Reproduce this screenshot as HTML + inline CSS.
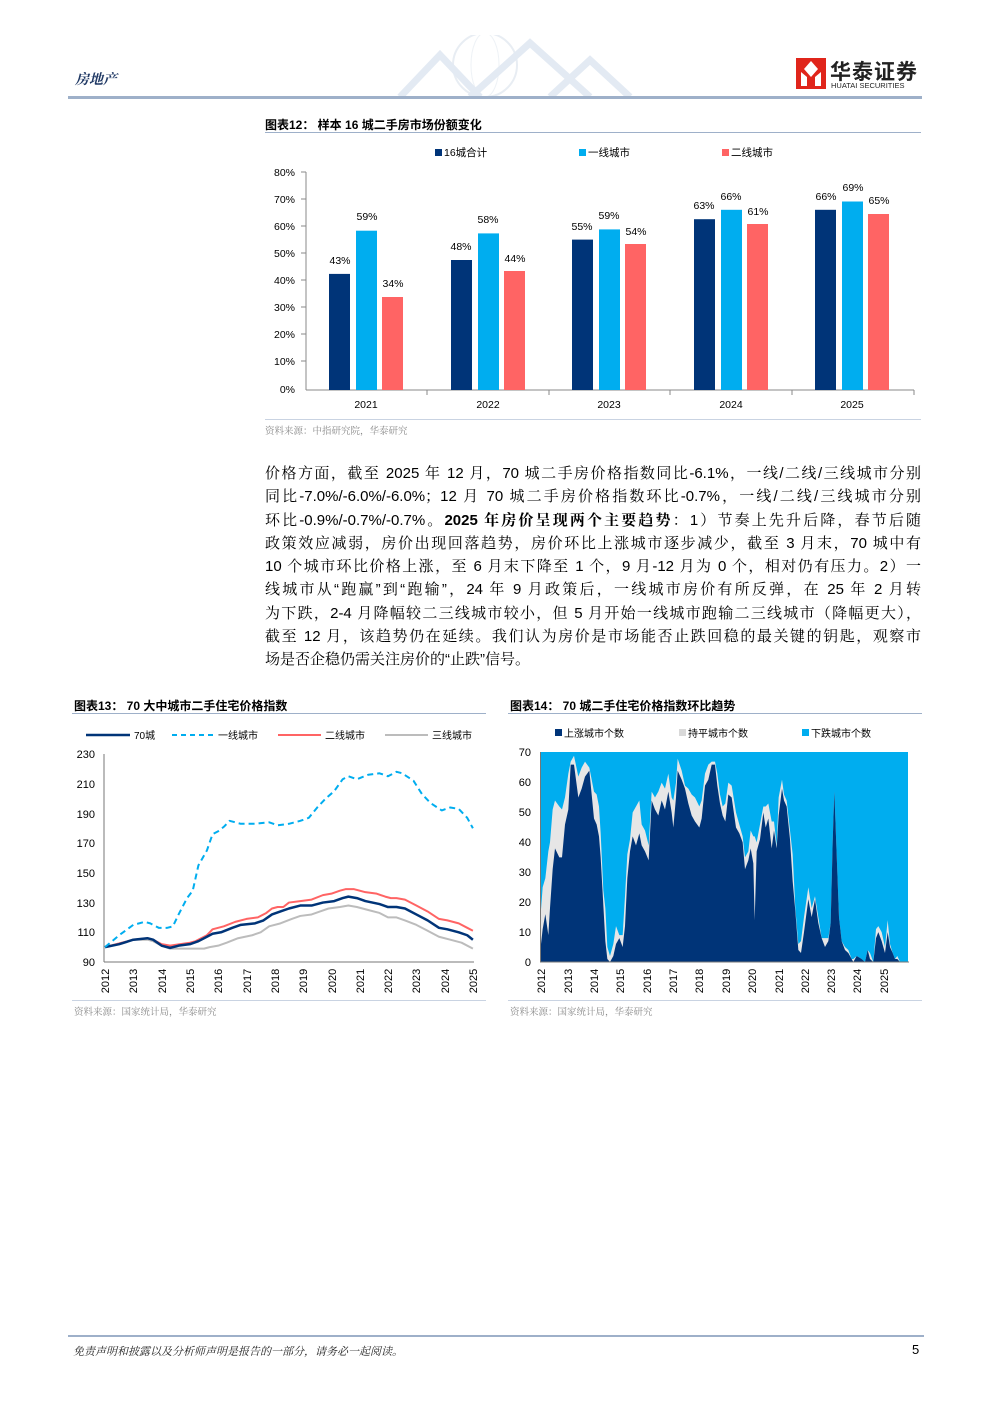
<!DOCTYPE html>
<html><head><meta charset="utf-8">
<style>
body{margin:0;background:#fff;}
#p{position:relative;width:992px;height:1403px;overflow:hidden;font-family:"Liberation Sans","Noto Sans CJK SC",sans-serif;color:#000;}
.a{position:absolute;white-space:nowrap;}
.t{font-size:12px;font-weight:bold;}
.src{font-size:9.5px;color:#8a8a8a;font-family:"Liberation Serif","Noto Serif CJK SC",serif;}
.para{position:absolute;left:265px;top:462px;width:656px;font-size:15px;line-height:23.3px;font-family:"Liberation Sans","Noto Serif CJK SC",serif;}
.para div{text-align:justify;text-align-last:justify;white-space:nowrap;overflow:hidden;height:23.3px;}
svg text{font-family:"Liberation Sans","Noto Sans CJK SC",sans-serif;}
</style></head><body><div id="p">
<!-- header -->
<div class="a" style="left:75px;top:69px;font-size:14px;font-weight:bold;font-style:italic;color:#1f3864;font-family:'Liberation Serif','Noto Serif CJK SC',serif;">房地产</div>
<svg class="a" style="left:380px;top:35px" width="280" height="62">
<circle cx="105" cy="30" r="32" fill="none" stroke="#e8edf3" stroke-width="2"/>
<ellipse cx="105" cy="30" rx="14" ry="32" fill="none" stroke="#eef2f6"/>
<path d="M20 62 L60 20 L100 62 M90 62 L150 8 L210 62 M170 62 L210 25 L250 62" fill="none" stroke="#e3eaf3" stroke-width="7"/>
</svg>
<div class="a" style="left:68px;top:96px;width:854px;height:3px;background:#9eb0c9"></div>
<svg class="a" style="left:796px;top:58px" width="30" height="31"><rect width="30" height="31" fill="#e0251b"/><path d="M15 3 L22 11 L15 19 L8 11Z M5 14 L5 28 L11 28 L11 19Z M25 14 L25 28 L19 28 L19 19Z" fill="#fff"/></svg>
<div class="a" style="left:830px;top:56px;font-size:21px;font-weight:bold;color:#222;letter-spacing:1px;">华泰证券</div>
<div class="a" style="left:831px;top:81px;font-size:7.5px;color:#222;">HUATAI SECURITIES</div>

<!-- chart 12 -->
<div class="a t" style="left:265px;top:116px;">图表12：&nbsp;样本 16 城二手房市场份额变化</div>
<div class="a" style="left:265px;top:132px;width:656px;height:1px;background:#9eb0c9"></div>
<svg class="a" style="left:260px;top:140px" width="665" height="275">
<g font-size="10.5">
<rect x="175" y="9" width="7" height="7" fill="#003478"/><text x="184" y="16">16城合计</text>
<rect x="319" y="9" width="7" height="7" fill="#00adef"/><text x="328" y="16">一线城市</text>
<rect x="462" y="9" width="7" height="7" fill="#ff6464"/><text x="471" y="16">二线城市</text>
</g>
<g font-size="10.5" text-anchor="end">
<text x="35" y="36">80%</text><text x="35" y="63">70%</text><text x="35" y="90">60%</text><text x="35" y="117">50%</text><text x="35" y="144">40%</text><text x="35" y="171">30%</text><text x="35" y="198">20%</text><text x="35" y="225">10%</text><text x="35" y="253">0%</text>
</g>
<line x1="46" y1="32" x2="46" y2="250" stroke="#888"/>
<g stroke="#888"><line x1="41" y1="32" x2="46" y2="32"/><line x1="41" y1="59" x2="46" y2="59"/><line x1="41" y1="86" x2="46" y2="86"/><line x1="41" y1="113" x2="46" y2="113"/><line x1="41" y1="140" x2="46" y2="140"/><line x1="41" y1="167" x2="46" y2="167"/><line x1="41" y1="194" x2="46" y2="194"/><line x1="41" y1="221" x2="46" y2="221"/>
<line x1="46" y1="250" x2="654" y2="250"/>
<line x1="167" y1="250" x2="167" y2="255"/><line x1="289" y1="250" x2="289" y2="255"/><line x1="410" y1="250" x2="410" y2="255"/><line x1="532" y1="250" x2="532" y2="255"/><line x1="654" y1="250" x2="654" y2="255"/></g>
<g>
<rect x="69" y="133.9" width="21" height="116.1" fill="#003478"/><rect x="96" y="90.7" width="21" height="159.3" fill="#00adef"/><rect x="122" y="157" width="21" height="93" fill="#ff6464"/>
<rect x="191" y="120" width="21" height="130" fill="#003478"/><rect x="218" y="93.4" width="21" height="156.6" fill="#00adef"/><rect x="244" y="131" width="21" height="119" fill="#ff6464"/>
<rect x="312" y="99.6" width="21" height="150.4" fill="#003478"/><rect x="339" y="89.4" width="21" height="160.6" fill="#00adef"/><rect x="365" y="104" width="21" height="146" fill="#ff6464"/>
<rect x="434" y="79.2" width="21" height="170.8" fill="#003478"/><rect x="461" y="69.8" width="21" height="180.2" fill="#00adef"/><rect x="487" y="84" width="21" height="166" fill="#ff6464"/>
<rect x="555" y="69.8" width="21" height="180.2" fill="#003478"/><rect x="582" y="61.5" width="21" height="188.5" fill="#00adef"/><rect x="608" y="74" width="21" height="176" fill="#ff6464"/>
</g>
<g font-size="10.5" text-anchor="middle">
<text x="80" y="124">43%</text><text x="107" y="80">59%</text><text x="133" y="147">34%</text>
<text x="201" y="110">48%</text><text x="228" y="83">58%</text><text x="255" y="122">44%</text>
<text x="322" y="90">55%</text><text x="349" y="79">59%</text><text x="376" y="95">54%</text>
<text x="444" y="69">63%</text><text x="471" y="60">66%</text><text x="498" y="75">61%</text>
<text x="566" y="60">66%</text><text x="593" y="51">69%</text><text x="619" y="64">65%</text>
<text x="106" y="268">2021</text><text x="228" y="268">2022</text><text x="349" y="268">2023</text><text x="471" y="268">2024</text><text x="592" y="268">2025</text>
</g>
</svg>
<div class="a" style="left:265px;top:419px;width:656px;height:1px;background:#c9d3e2"></div>
<div class="a src" style="left:265px;top:423px;">资料来源：中指研究院，华泰研究</div>

<!-- paragraph -->
<div class="para">
<div>价格方面，截至 2025 年 12 月，70 城二手房价格指数同比-6.1%，一线/二线/三线城市分别</div>
<div>同比-7.0%/-6.0%/-6.0%；12 月 70 城二手房价格指数环比-0.7%，一线/二线/三线城市分别</div>
<div>环比-0.9%/-0.7%/-0.7%。<b>2025 年房价呈现两个主要趋势</b>：1）节奏上先升后降，春节后随</div>
<div>政策效应减弱，房价出现回落趋势，房价环比上涨城市逐步减少，截至 3 月末，70 城中有</div>
<div>10 个城市环比价格上涨，至 6 月末下降至 1 个，9 月-12 月为 0 个，相对仍有压力。2）一</div>
<div>线城市从“跑赢”到“跑输”，24 年 9 月政策后，一线城市房价有所反弹，在 25 年 2 月转</div>
<div>为下跌，2-4 月降幅较二三线城市较小，但 5 月开始一线城市跑输二三线城市（降幅更大），</div>
<div>截至 12 月，该趋势仍在延续。我们认为房价是市场能否止跌回稳的最关键的钥匙，观察市</div>
<div style="text-align-last:left">场是否企稳仍需关注房价的“止跌”信号。</div>
</div>

<!-- chart 13 -->
<div class="a t" style="left:74px;top:697px;">图表13：&nbsp;70 大中城市二手住宅价格指数</div>
<div class="a" style="left:72px;top:713px;width:414px;height:1px;background:#9eb0c9"></div>
<svg class="a" style="left:0;top:0" width="992" height="1010">
<g font-size="10">
<line x1="86" y1="735" x2="130" y2="735" stroke="#003478" stroke-width="2.5"/><text x="134" y="739">70城</text>
<line x1="172" y1="735" x2="214" y2="735" stroke="#00adef" stroke-width="2" stroke-dasharray="5,4"/><text x="218" y="739">一线城市</text>
<line x1="278" y1="735" x2="321" y2="735" stroke="#ff6464" stroke-width="2"/><text x="325" y="739">二线城市</text>
<line x1="385" y1="735" x2="428" y2="735" stroke="#bcbcbc" stroke-width="2"/><text x="432" y="739">三线城市</text>
</g>
<g font-size="11" text-anchor="end">
<text x="95" y="758">230</text><text x="95" y="788">210</text><text x="95" y="818">190</text><text x="95" y="847">170</text><text x="95" y="877">150</text><text x="95" y="907">130</text><text x="95" y="936">110</text><text x="95" y="966">90</text>
</g>
<g stroke="#777"><line x1="104" y1="754" x2="104" y2="962"/><line x1="104" y1="962" x2="474" y2="962"/></g>
<g font-size="11" text-anchor="middle">
<text transform="translate(109,981) rotate(-90)">2012</text><text transform="translate(137,981) rotate(-90)">2013</text><text transform="translate(166,981) rotate(-90)">2014</text><text transform="translate(194,981) rotate(-90)">2015</text><text transform="translate(222,981) rotate(-90)">2016</text><text transform="translate(251,981) rotate(-90)">2017</text><text transform="translate(279,981) rotate(-90)">2018</text><text transform="translate(307,981) rotate(-90)">2019</text><text transform="translate(336,981) rotate(-90)">2020</text><text transform="translate(364,981) rotate(-90)">2021</text><text transform="translate(392,981) rotate(-90)">2022</text><text transform="translate(420,981) rotate(-90)">2023</text><text transform="translate(449,981) rotate(-90)">2024</text><text transform="translate(477,981) rotate(-90)">2025</text>
</g>
<g transform="translate(-56834.6,1095.74) scale(28.3,-1.486)" fill="none" stroke-linejoin="round">
<polyline vector-effect="non-scaling-stroke" stroke="#bcbcbc" stroke-width="2" points="2012,100 2013,105 2013.5,105 2013.7,104 2014.0,101 2014.3,99 2015.0,99 2015.5,99 2015.7,100 2016.0,101 2016.3,103 2016.7,106 2017.2,108 2017.5,110 2017.8,114 2018.2,116 2018.6,119 2018.9,121 2019.3,122 2019.6,124 2019.9,126 2020.3,127 2020.6,128 2020.9,127 2021.3,125 2021.7,123 2022.0,120 2022.3,120 2022.6,118 2023.0,115 2023.4,111 2023.8,107 2024.2,105 2024.6,103 2025,99"/>
<polyline vector-effect="non-scaling-stroke" stroke="#ff6464" stroke-width="2" points="2012,100 2013,105 2013.5,106 2013.7,105 2014.0,102 2014.3,101 2015.0,103 2015.2,104 2015.6,108 2015.8,112 2016.2,114 2016.6,117 2017.0,119 2017.4,120 2017.7,123 2017.9,126 2018.1,127 2018.3,127 2018.5,130 2018.9,131 2019.3,132 2019.7,135 2020.0,136 2020.3,138 2020.5,139 2020.8,139 2021.2,137 2021.6,136 2021.9,134 2022.1,133 2022.3,133 2022.6,132 2023.0,128 2023.4,124 2023.8,119 2024.1,118 2024.5,116 2024.8,113 2025,111"/>
<polyline vector-effect="non-scaling-stroke" stroke="#003478" stroke-width="2.5" points="2012,100 2012.5,102 2013,105 2013.5,106 2013.7,105 2014.0,101 2014.3,99.5 2014.6,101 2015.0,102 2015.3,104 2015.6,107 2015.8,109 2016.1,110 2016.5,113 2016.8,115 2017.3,116 2017.6,118 2017.9,122 2018.2,124 2018.5,126 2018.9,128 2019.3,128 2019.7,130 2020.1,131 2020.4,133 2020.6,134 2020.9,133 2021.2,131 2021.7,129 2022.0,127 2022.3,127 2022.6,126 2023.0,122 2023.4,118 2023.8,113 2024.1,112 2024.5,110 2024.8,108 2025,105"/>
<polyline vector-effect="non-scaling-stroke" stroke="#00adef" stroke-width="2" stroke-dasharray="6,4" points="2012,100 2012.5,108 2013,115 2013.4,117 2013.6,116 2013.9,113 2014.2,113 2014.4,114 2014.6,122 2014.9,133 2015.1,138 2015.3,155 2015.6,165 2015.8,176 2016.0,178 2016.2,181 2016.4,185 2016.8,183 2017.3,183 2017.8,184 2018.1,182 2018.5,183 2018.9,185 2019.2,187 2019.5,194 2019.8,200 2020.1,205 2020.4,213 2020.6,215 2020.9,213 2021.3,216 2021.7,217 2022.0,215 2022.3,218 2022.5,217 2022.9,212 2023.2,203 2023.5,197 2023.9,192 2024.2,194 2024.5,193 2024.8,187 2025,180"/>
</g>

<!-- chart 14 -->
<g font-size="10">
<rect x="555" y="729" width="7" height="7" fill="#003478"/><text x="564" y="737">上涨城市个数</text>
<rect x="679" y="729" width="7" height="7" fill="#d9d9d9"/><text x="688" y="737">持平城市个数</text>
<rect x="802" y="729" width="7" height="7" fill="#00adef"/><text x="811" y="737">下跌城市个数</text>
</g>
<rect x="541" y="752" width="367" height="210" fill="#00adef"/>
<g transform="translate(500,962) scale(0.33333,-2.99)">
<polygon fill="#e6e6e6" points="122,0 122,16 128,25 136,28 145,37 150,40 158,51 165,54 178,52 186,51 195,55 205,63 212,67 222,69 235,62 245,65 255,67 268,65 282,57 290,56 297,52 302,43 310,24 316,18 322,5 330,2 340,6 348,12 358,9 368,9 375,22 382,36 390,41 398,50 408,52 418,54 425,46 435,44 446,39 455,57 465,55 475,57 485,60 495,58 505,63 515,55 520,54 528,60 533,68 545,64 555,59 565,58 575,56 585,55 598,52 605,54 615,63 625,66 635,67 645,67 652,63 660,56 668,52 676,53 685,60 695,59 708,50 718,46 728,42 735,35 745,37 752,44 760,42 764,42 770,40 780,46 790,52 797,52 805,53 815,47 822,47 830,39 836,55 846,61 852,56 860,54 870,44 878,36 886,18 895,6 903,7 912,15 925,25 935,18 945,22 955,15 965,8 975,8 985,8 992,13 998,40 1003,57 1010,36 1017,15 1025,7 1035,5 1045,4 1055,1 1060,1 1070,2 1085,1 1095,0 1103,4 1110,3 1120,0 1128,11 1135,12 1145,10 1155,5 1163,14 1170,6 1178,3 1185,1 1192,2 1200,0"/>
<polygon fill="#003478" points="122,0 122,5 128,11 136,16 145,9 150,18 158,31 165,38 178,35 186,35 195,46 205,51 212,66 222,66 235,55 245,58 255,62 268,64 282,48 290,46 297,42 302,35 310,19 316,7 322,1 330,0 340,2 348,6 358,8 368,5 375,12 382,28 390,37 398,42 408,39 418,43 425,39 435,37 446,34 455,54 465,51 475,49 485,54 495,51 505,57 515,50 520,45 528,55 533,64 545,61 555,58 565,53 575,49 585,47 598,45 605,48 615,59 625,61 635,66 645,66 652,59 660,53 668,49 676,47 685,56 695,55 708,45 718,43 728,40 735,31 745,34 752,38 760,33 764,14 770,37 780,41 790,50 797,45 805,48 815,38 822,44 830,38 836,49 846,58 852,54 860,52 870,41 878,27 886,17 895,4 903,3 912,10 925,21 935,15 945,21 955,13 965,8 975,5 985,7 992,13 998,40 1003,57 1010,36 1017,15 1025,7 1035,4 1045,3 1055,1 1060,0 1070,2 1085,1 1095,0 1103,4 1110,1 1120,0 1128,8 1135,10 1145,7 1155,3 1163,10 1170,5 1178,3 1185,1 1192,1 1200,0"/>
</g>
<g stroke="#777"><line x1="540.5" y1="752" x2="540.5" y2="962"/><line x1="540" y1="962" x2="909" y2="962"/></g>
<g font-size="11" text-anchor="end">
<text x="531" y="756">70</text><text x="531" y="786">60</text><text x="531" y="816">50</text><text x="531" y="846">40</text><text x="531" y="876">30</text><text x="531" y="906">20</text><text x="531" y="936">10</text><text x="531" y="966">0</text>
</g>
<g font-size="11" text-anchor="middle">
<text transform="translate(545,981) rotate(-90)">2012</text><text transform="translate(572,981) rotate(-90)">2013</text><text transform="translate(598,981) rotate(-90)">2014</text><text transform="translate(624,981) rotate(-90)">2015</text><text transform="translate(651,981) rotate(-90)">2016</text><text transform="translate(677,981) rotate(-90)">2017</text><text transform="translate(703,981) rotate(-90)">2018</text><text transform="translate(730,981) rotate(-90)">2019</text><text transform="translate(756,981) rotate(-90)">2020</text><text transform="translate(783,981) rotate(-90)">2021</text><text transform="translate(809,981) rotate(-90)">2022</text><text transform="translate(835,981) rotate(-90)">2023</text><text transform="translate(861,981) rotate(-90)">2024</text><text transform="translate(888,981) rotate(-90)">2025</text>
</g>
</svg>
<div class="a t" style="left:510px;top:697px;">图表14：&nbsp;70 城二手住宅价格指数环比趋势</div>
<div class="a" style="left:508px;top:713px;width:414px;height:1px;background:#9eb0c9"></div>
<div class="a" style="left:72px;top:1000px;width:414px;height:1px;background:#c9d3e2"></div>
<div class="a src" style="left:74px;top:1004px;">资料来源：国家统计局，华泰研究</div>
<div class="a" style="left:508px;top:1000px;width:414px;height:1px;background:#c9d3e2"></div>
<div class="a src" style="left:510px;top:1004px;">资料来源：国家统计局，华泰研究</div>

<!-- footer -->
<div class="a" style="left:68px;top:1335px;width:856px;height:2px;background:#9eb0c9"></div>
<div class="a" style="left:73px;top:1343px;font-size:11px;font-style:italic;color:#222;font-family:'Liberation Serif','Noto Serif CJK SC',serif;">免责声明和披露以及分析师声明是报告的一部分，请务必一起阅读。</div>
<div class="a" style="left:912px;top:1342px;font-size:13px;">5</div>
</div></body></html>
